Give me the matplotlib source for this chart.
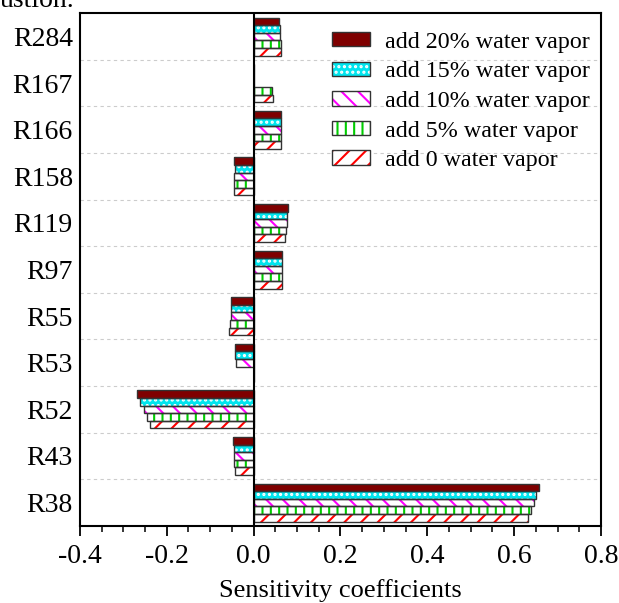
import matplotlib
matplotlib.use('Agg')
import matplotlib.pyplot as plt
import numpy as np
from matplotlib.patches import Patch
from matplotlib.ticker import MultipleLocator, FuncFormatter

plt.rcParams['font.family'] = 'Liberation Serif'
plt.rcParams['hatch.linewidth'] = 1.5

# reactions, listed top to bottom as in the chart
reactions = ['R284', 'R167', 'R166', 'R158', 'R119', 'R97', 'R55', 'R53', 'R52', 'R43', 'R38']

v20 = [0.058, 0.0, 0.062, -0.045, 0.079, 0.066, -0.051, -0.042, -0.269, -0.047, 0.657]
v15 = [0.060, 0.0, 0.062, -0.043, 0.076, 0.066, -0.053, -0.042, -0.261, -0.045, 0.651]
v10 = [0.061, 0.0, 0.062, -0.045, 0.076, 0.066, -0.053, -0.040, -0.253, -0.045, 0.645]
v5 = [0.062, 0.042, 0.064, -0.045, 0.074, 0.066, -0.055, 0.0, -0.245, -0.044, 0.638]
v0 = [0.064, 0.045, 0.064, -0.045, 0.073, 0.066, -0.057, 0.0, -0.238, -0.043, 0.632]

series_labels = ['add 20% water vapor', 'add 15% water vapor', 'add 10% water vapor',
                 'add 5% water vapor', 'add 0 water vapor']
series = [v20, v15, v10, v5, v0]
# (face colour, hatch colour, hatch)
styles = [('#7f0000', '#7f0000', ''),
          ('#00e5ee', 'white', '...'),
          ('white', '#ff00ff', '\\\\'),
          ('white', '#00cc00', '||'),
          ('white', '#ff0000', '//')]
edge = '#333333'

fig = plt.figure(figsize=(6.19, 6.03), dpi=100)
ax = fig.add_axes([0.129, 0.128, 0.842, 0.850])

n = len(reactions)
ypos = np.arange(n)[::-1]
h = 0.163

for k, (vals, (fc, hc, hatch)) in enumerate(zip(series, styles)):
    off = (2 - k) * h
    ax.barh(ypos + off, vals, height=h, color=fc, edgecolor=hc, hatch=hatch,
            linewidth=0, zorder=2)
    ax.barh(ypos + off, vals, height=h, fill=False, edgecolor=edge,
            linewidth=1.0, zorder=2.5)

for g in np.arange(0.5, n - 1, 1.0):
    ax.axhline(g, color='#cccccc', linestyle=(0, (3, 3)), linewidth=0.8, zorder=1)
ax.axvline(0, color='black', linewidth=1.5, zorder=3)

ax.set_xlim(-0.4, 0.8)
ax.set_ylim(-0.5, n - 0.5)
ax.set_yticks(ypos)
ax.set_yticklabels(reactions, fontsize=20)
ax.tick_params(axis='y', length=0, pad=5)
ax.xaxis.set_major_locator(MultipleLocator(0.2))
ax.xaxis.set_minor_locator(MultipleLocator(0.05))
ax.xaxis.set_major_formatter(FuncFormatter(lambda v, p: '%.1f' % (round(v, 3) + 0.0)))
ax.tick_params(axis='x', which='major', direction='out', length=7, width=1.3,
               labelsize=20, pad=6)
ax.tick_params(axis='x', which='minor', direction='out', length=4, width=1.1)
ax.set_xlabel('Sensitivity coefficients', fontsize=19, labelpad=7)
for s in ax.spines.values():
    s.set_linewidth(1.5)

handles = []
for fc, hc, hatch in styles:
    handles.append((Patch(facecolor=fc, edgecolor=hc, hatch=hatch, linewidth=0),
                    Patch(fill=False, edgecolor=edge, linewidth=1.0)))
ax.legend(handles, series_labels, loc='upper right', frameon=False, fontsize=17.3,
          handlelength=1.6, handleheight=0.55, labelspacing=0.36, handletextpad=0.6,
          borderpad=0.2, bbox_to_anchor=(1.01, 0.997))

fig.text(0.0, 0.988, 'ustion.', fontsize=20, ha='left', va='baseline')

fig.savefig('out.png', dpi=100)
